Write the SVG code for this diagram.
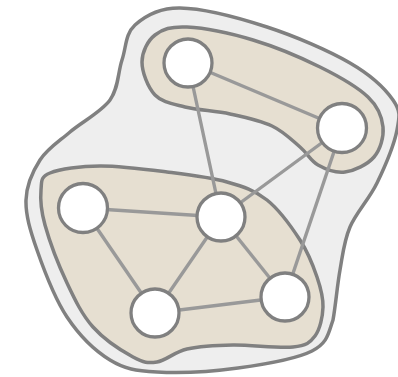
<svg xmlns="http://www.w3.org/2000/svg" width="398" height="377" viewBox="0 0 398 377">
<style>
.blob{fill:#eeeeee;stroke:#808080;stroke-width:3.5}
.region{fill:#e6dfd1;stroke:#808080;stroke-width:3.5}
.edge{stroke:#999999;stroke-width:3.4;fill:none}
.node{fill:#ffffff;stroke:#808080;stroke-width:3.3}
</style>
<rect width="398" height="377" fill="#ffffff"/>
<g id="outer">
<path class="blob" d="M180,8 C202,8.3 238.7,17.8 267,27 C295.3,36.2 329,50.8 350,63 C371,75.2 385.2,88.8 393,100 C400.8,111.2 399.7,116.2 397,130 C394.3,143.8 384.8,166.8 377,183 C369.2,199.2 356.2,212.5 350,227 C343.8,241.5 342.8,254.5 340,270 C337.2,285.5 335.8,304.5 333,320 C328.3,333.5 327.8,343 312,351 C296.2,359 263.8,364.5 238,368 C212.2,371.5 178.3,373.3 157,372 C135.7,370.7 125,369.2 110,360 C95,350.8 79.2,335.3 67,317 C54.8,298.7 43.8,269.5 37,250 C30.2,230.5 25.5,215 26,200 C26.5,185 32.7,171.3 40,160 C47.3,148.7 58.3,142 70,132 C81.7,122 101.3,112 110,100 C118.7,88 117.8,72.5 122,60 C126.2,47.5 125.3,33.7 135,25 C144.7,16.3 158,7.7 180,8 Z"/>
</g>
<g id="region-top">
<path class="region" d="M187,27 C203.3,27.8 230.8,33.3 253,40 C275.2,46.7 300.8,57.5 320,67 C339.2,76.5 357.5,87 368,97 C378.5,107 382,117 383,127 C384,137 380.3,149.5 374,157 C367.7,164.5 354.3,170.7 345,172 C335.7,173.3 325.5,169.2 318,165 C310.5,160.8 307.7,153.5 300,147 C292.3,140.5 283.7,131.5 272,126 C260.3,120.5 244.5,117.2 230,114 C215.5,110.8 197.5,110.2 185,107 C172.5,103.8 162.2,102.5 155,95 C147.8,87.5 142,72 142,62 C142,52 147.5,40.8 155,35 C162.5,29.2 170.7,26.2 187,27 Z"/>
</g>
<g id="region-bottom">
<path class="region" d="M50,173 C59.8,169 80.5,166.2 100,166 C119.5,165.8 145.8,169.3 167,172 C188.2,174.7 210.3,177.3 227,182 C243.7,186.7 254.8,190.3 267,200 C279.2,209.7 291.7,227.2 300,240 C308.3,252.8 313.2,265.8 317,277 C320.8,288.2 323.3,297.2 323,307 C322.7,316.8 320,329.3 315,336 C310,342.7 306.7,345.5 293,347 C279.3,348.5 250.7,344.7 233,345 C215.3,345.3 199.7,346.2 187,349 C174.3,351.8 166,360.7 157,362 C148,363.3 143.7,362.8 133,357 C122.3,351.2 104,339.3 93,327 C82,314.7 75,300 67,283 C59,266 49.3,240.5 45,225 C40.7,209.5 40.2,198.7 41,190 C41.8,181.3 40.2,177 50,173 Z"/>
</g>
<g id="connectors">
<line class="edge" x1="188" y1="63" x2="342" y2="128"/>
<line class="edge" x1="188" y1="63" x2="221" y2="217"/>
<line class="edge" x1="342" y1="128" x2="221" y2="217"/>
<line class="edge" x1="342" y1="128" x2="285" y2="297"/>
<line class="edge" x1="221" y1="217" x2="83" y2="208"/>
<line class="edge" x1="221" y1="217" x2="155" y2="313"/>
<line class="edge" x1="221" y1="217" x2="285" y2="297"/>
<line class="edge" x1="83" y1="208" x2="155" y2="313"/>
<line class="edge" x1="155" y1="313" x2="285" y2="297"/>
</g>
<g id="node-a"><circle class="node" cx="188" cy="63" r="24"/></g>
<g id="node-b"><circle class="node" cx="342" cy="128" r="24.5"/></g>
<g id="node-c"><circle class="node" cx="221" cy="217" r="24"/></g>
<g id="node-d"><circle class="node" cx="83" cy="208" r="24.5"/></g>
<g id="node-e"><circle class="node" cx="155" cy="313" r="24"/></g>
<g id="node-f"><circle class="node" cx="285" cy="297" r="24"/></g>
</svg>
